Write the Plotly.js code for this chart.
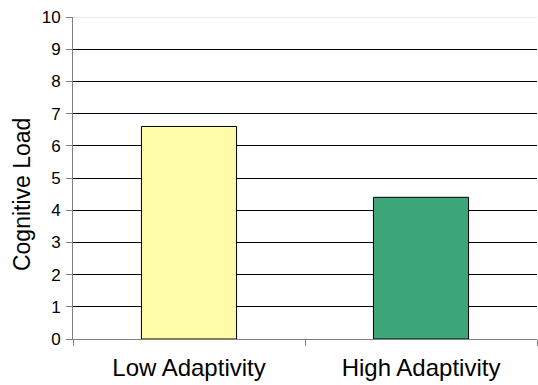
<!DOCTYPE html>
<html>
<head>
<meta charset="utf-8">
<script src="https://cdn.plot.ly/plotly-3.0.1.min.js"></script>
<style>html,body{margin:0;padding:0;background:#fff;}#chart{width:538px;height:385px;}</style>
</head>
<body>
<div id="chart"></div>
<script>
const categories = ["Low Adaptivity", "High Adaptivity"];
const values = [6.6, 4.4];
const barColors = ["#FFFBA8", "#3EA77A"];
const yTicks = [0, 1, 2, 3, 4, 5, 6, 7, 8, 9, 10];
const yTitle = "Cognitive Load";

const trace = {
  type: "bar",
  x: categories,
  y: values,
  width: 0.41,
  marker: { color: barColors, line: { color: "#000000", width: 1 } },
  hoverinfo: "none"
};

const layout = {
  width: 538, height: 385,
  margin: { l: 73, r: 1, t: 17, b: 46 },
  paper_bgcolor: "#ffffff",
  plot_bgcolor: "#ffffff",
  showlegend: false,
  font: { family: "'Liberation Sans', Arial, sans-serif", color: "#000000" },
  xaxis: {
    type: "category",
    showline: true, linecolor: "#808080", linewidth: 1,
    ticks: "outside", tickson: "boundaries", ticklen: 6, tickcolor: "#808080",
    tickfont: { size: 24, color: "#000000" },
    ticklabelstandoff: 7,
    showgrid: false, zeroline: false,
    range: [-0.5, 1.5]
  },
  yaxis: {
    range: [0, 10],
    tickvals: yTicks,
    ticktext: yTicks.map(String),
    showline: true, linecolor: "#808080", linewidth: 1,
    ticks: "outside", ticklen: 6, tickcolor: "#808080",
    tickfont: { size: 17, color: "#000000" },
    ticklabelstandoff: 2,
    showgrid: true, gridcolor: "#000000", gridwidth: 1,
    zeroline: false
  },
  annotations: [{
    text: yTitle, textangle: -90, showarrow: false,
    xref: "paper", yref: "paper", x: -0.11, y: 0.45,
    xanchor: "center", yanchor: "middle",
    font: { size: 23, color: "#000000" }
  }],
  shapes: [{
    type: "line", xref: "paper", yref: "y",
    x0: 0, x1: 1, y0: yTicks[yTicks.length - 1], y1: yTicks[yTicks.length - 1],
    line: { color: "#d8d8d8", width: 1 }
  }]
};

Plotly.newPlot("chart", [trace], layout, { displayModeBar: false, staticPlot: true });
</script>
</body>
</html>
